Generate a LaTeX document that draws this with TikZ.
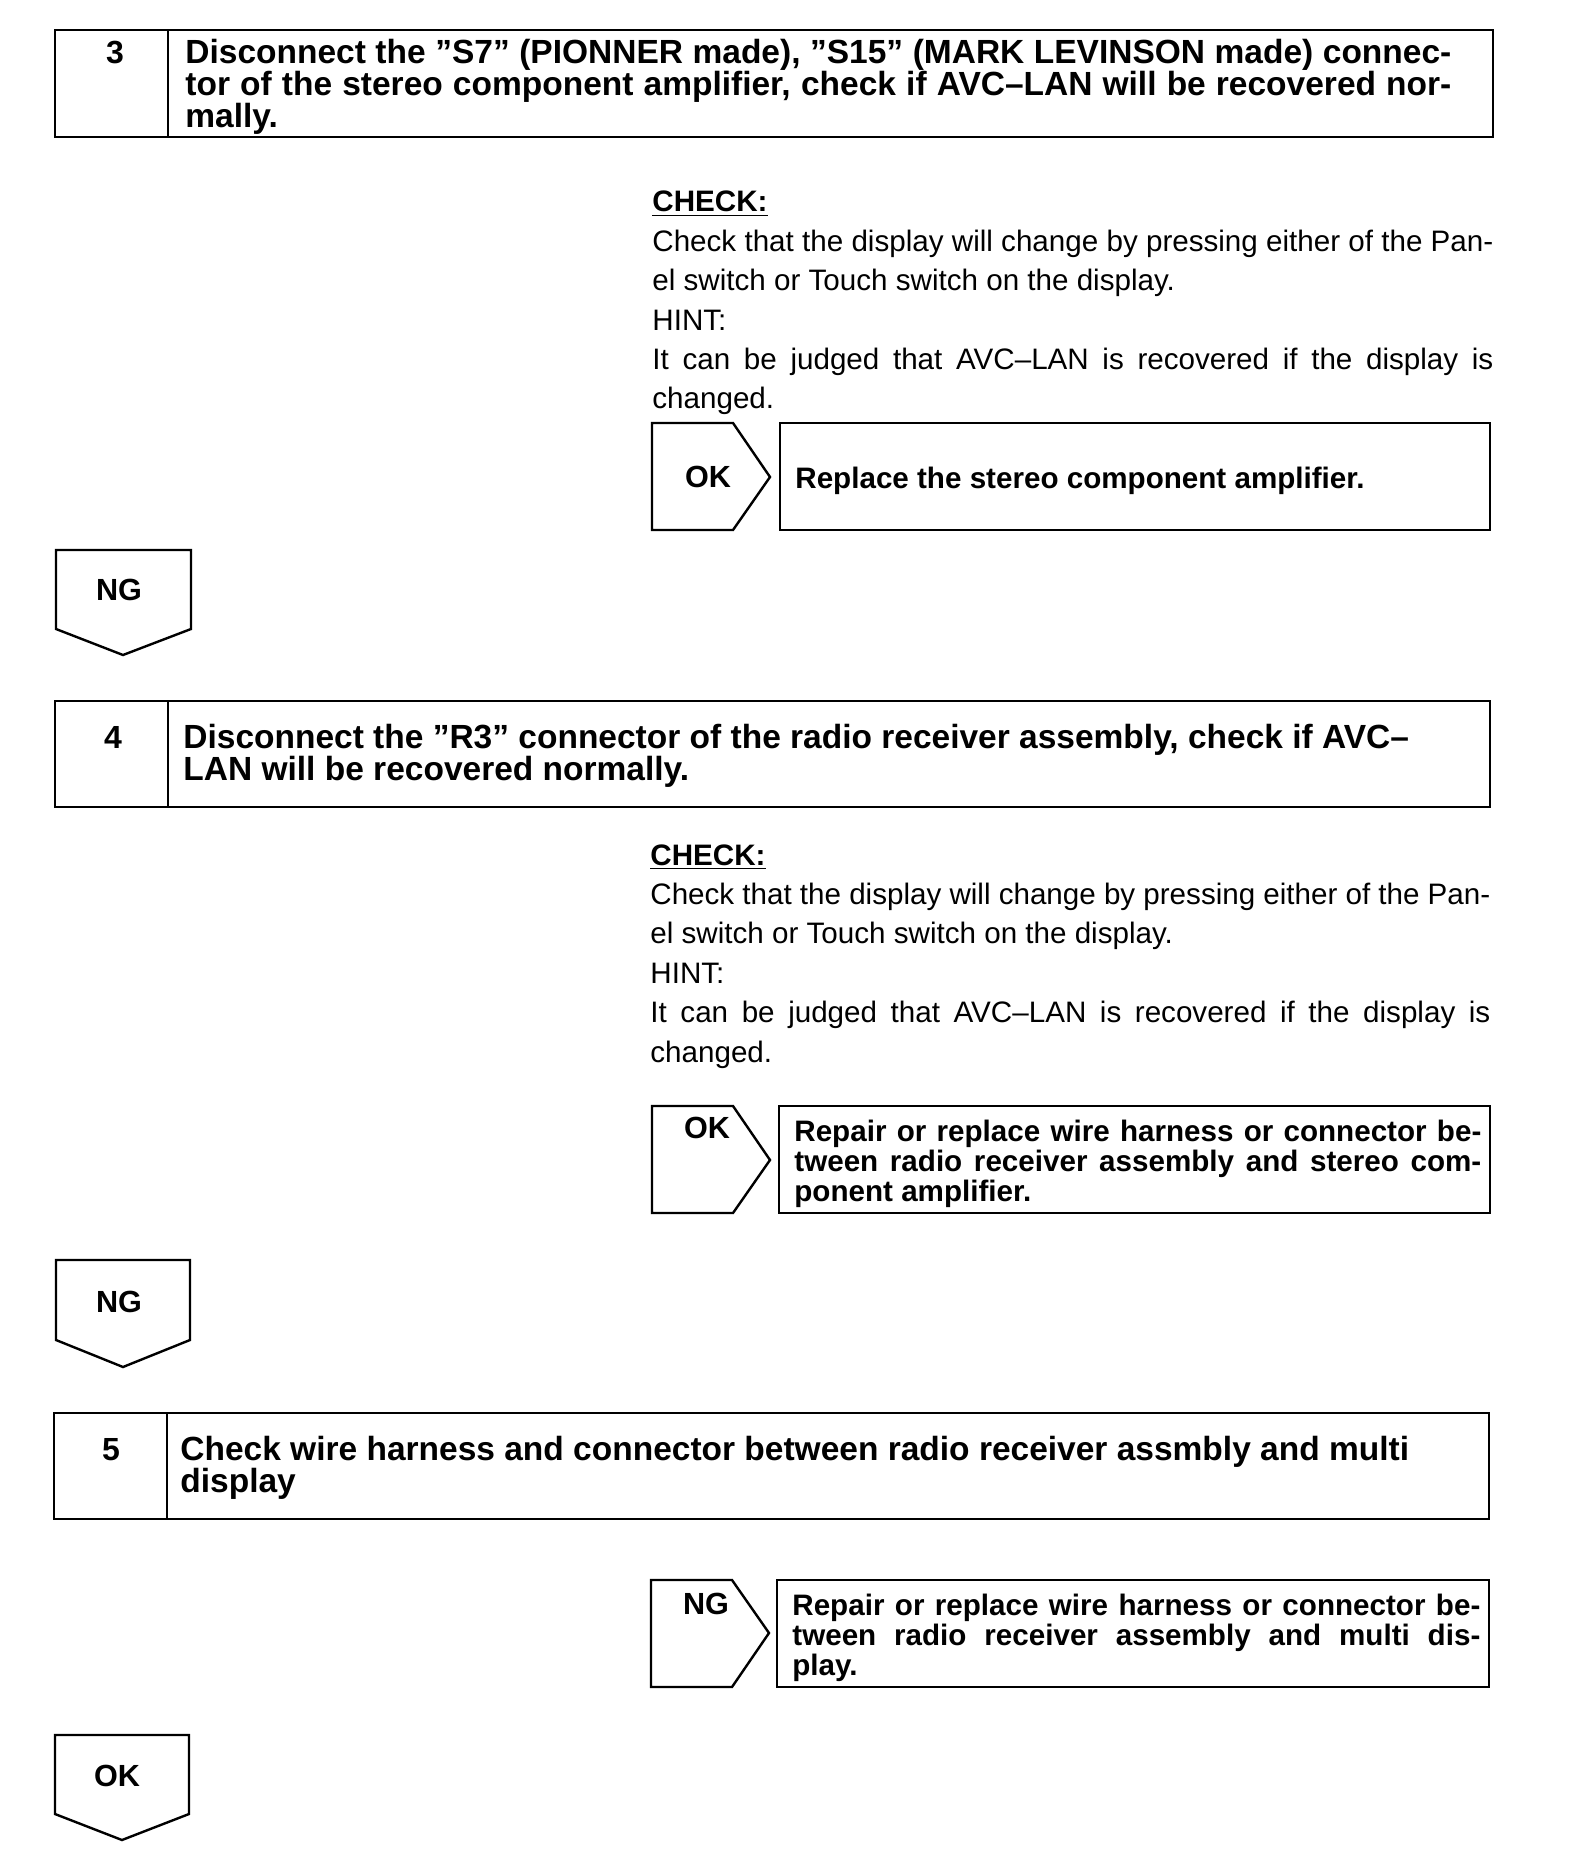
\documentclass[tikz,border=0pt]{standalone}
\usepackage{fontspec}
\setmainfont{Liberation Sans}
\usetikzlibrary{positioning}
\newcommand{\fullline}[2]{\leavevmode\hbox to #1{\spaceskip=0pt\xspaceskip=0pt #2}}
\tikzset{
  frame/.style={line width=1.2pt, line join=miter},
  stepnum/.style={font=\bfseries\fontsize{16}{16}\selectfont, anchor=base, inner sep=0pt},
  steptext/.style={font=\bfseries\fontsize{16.75}{16}\selectfont, anchor=base west, inner sep=0pt, text width=640pt, align=flush left},
  bodytext/.style={font=\fontsize{14.8}{19.7}\selectfont, anchor=base west, inner sep=0pt, text width=430pt, align=flush left},
  resulttext/.style={font=\bfseries\fontsize{14.8}{15}\selectfont, anchor=base west, inner sep=0pt, text width=350pt, align=flush left},
  tag/.style={font=\bfseries\fontsize{15.3}{16}\selectfont, inner sep=0pt}
}
\begin{document}
\begin{tikzpicture}[x=0.5pt,y=-0.5pt]
\useasboundingbox (0,0) rectangle (1568,1872);

% step 3
\draw[frame] (55,30) rectangle (1493,137);
\draw[frame] (168,30) -- (168,137);
\node[stepnum] (num3) at (115,64) {3};
\node[steptext] (step3) at (185,64) {\fullline{633pt}{Disconnect the ”S7” (PIONNER made), ”S15” (MARK LEVINSON made) connec-}\\
  \fullline{633pt}{tor of the stereo component amplifier, check if AVC–LAN will be recovered nor-}\\
  mally.};
\node[bodytext] (check3) at (652,212) {\textbf{\underline{CHECK:}}\\
  \fullline{420.5pt}{Check that the display will change by pressing either of the Pan-}\\
  el switch or Touch switch on the display.\\
  HINT:\\
  \fullline{420.5pt}{It can be judged that AVC–LAN is recovered if the display is}\\
  changed.};
\draw[frame] (652,423) -- (733,423) -- (770,477) -- (733,530) -- (652,530) -- cycle;
\node[tag] (ok3) at (708,477) {OK};
\draw[frame] (780,423) rectangle (1490,530);
\node[resulttext] (res3) at (795,488) {Replace the stereo component amplifier.};
\draw[frame] (56,550) -- (191,550) -- (191,629) -- (123,655) -- (56,629) -- cycle;
\node[tag] (ng3) at (119,590) {NG};

% step 4
\draw[frame] (55,701) rectangle (1490,807);
\draw[frame] (168,701) -- (168,807);
\node[stepnum] (num4) at (113,748) {4};
\node[steptext] (step4) at (183,748) {Disconnect the ”R3” connector of the radio receiver assembly, check if AVC–\\
  LAN will be recovered normally.};
\node[bodytext] (check4) at (650,865) {\textbf{\underline{CHECK:}}\\
  \fullline{420pt}{Check that the display will change by pressing either of the Pan-}\\
  el switch or Touch switch on the display.\\
  HINT:\\
  \fullline{420pt}{It can be judged that AVC–LAN is recovered if the display is}\\
  changed.};
\draw[frame] (652,1106) -- (733,1106) -- (770,1160) -- (733,1213) -- (652,1213) -- cycle;
\node[tag] (ok4) at (707,1128) {OK};
\draw[frame] (779,1106) rectangle (1490,1213);
\node[resulttext] (res4) at (794,1141) {\fullline{343.5pt}{Repair or replace wire harness or connector be-}\\
  \fullline{343.5pt}{tween radio receiver assembly and stereo com-}\\
  ponent amplifier.};
\draw[frame] (56,1260) -- (190,1260) -- (190,1340) -- (123,1367) -- (56,1340) -- cycle;
\node[tag] (ng4) at (119,1302) {NG};

% step 5
\draw[frame] (54,1413) rectangle (1489,1519);
\draw[frame] (167,1413) -- (167,1519);
\node[stepnum] (num5) at (111,1460) {5};
\node[steptext] (step5) at (180,1460) {Check wire harness and connector between radio receiver assmbly and multi\\
  display};
\draw[frame] (651,1580) -- (732,1580) -- (769,1633) -- (732,1687) -- (651,1687) -- cycle;
\node[tag] (ng5) at (706,1604) {NG};
\draw[frame] (777,1580) rectangle (1489,1687);
\node[resulttext] (res5) at (792,1615) {\fullline{344pt}{Repair or replace wire harness or connector be-}\\
  \fullline{344pt}{tween radio receiver assembly and multi dis-}\\
  play.};
\draw[frame] (55,1735) -- (189,1735) -- (189,1814) -- (122,1840) -- (55,1814) -- cycle;
\node[tag] (ok5) at (117,1776) {OK};
\end{tikzpicture}
\end{document}
